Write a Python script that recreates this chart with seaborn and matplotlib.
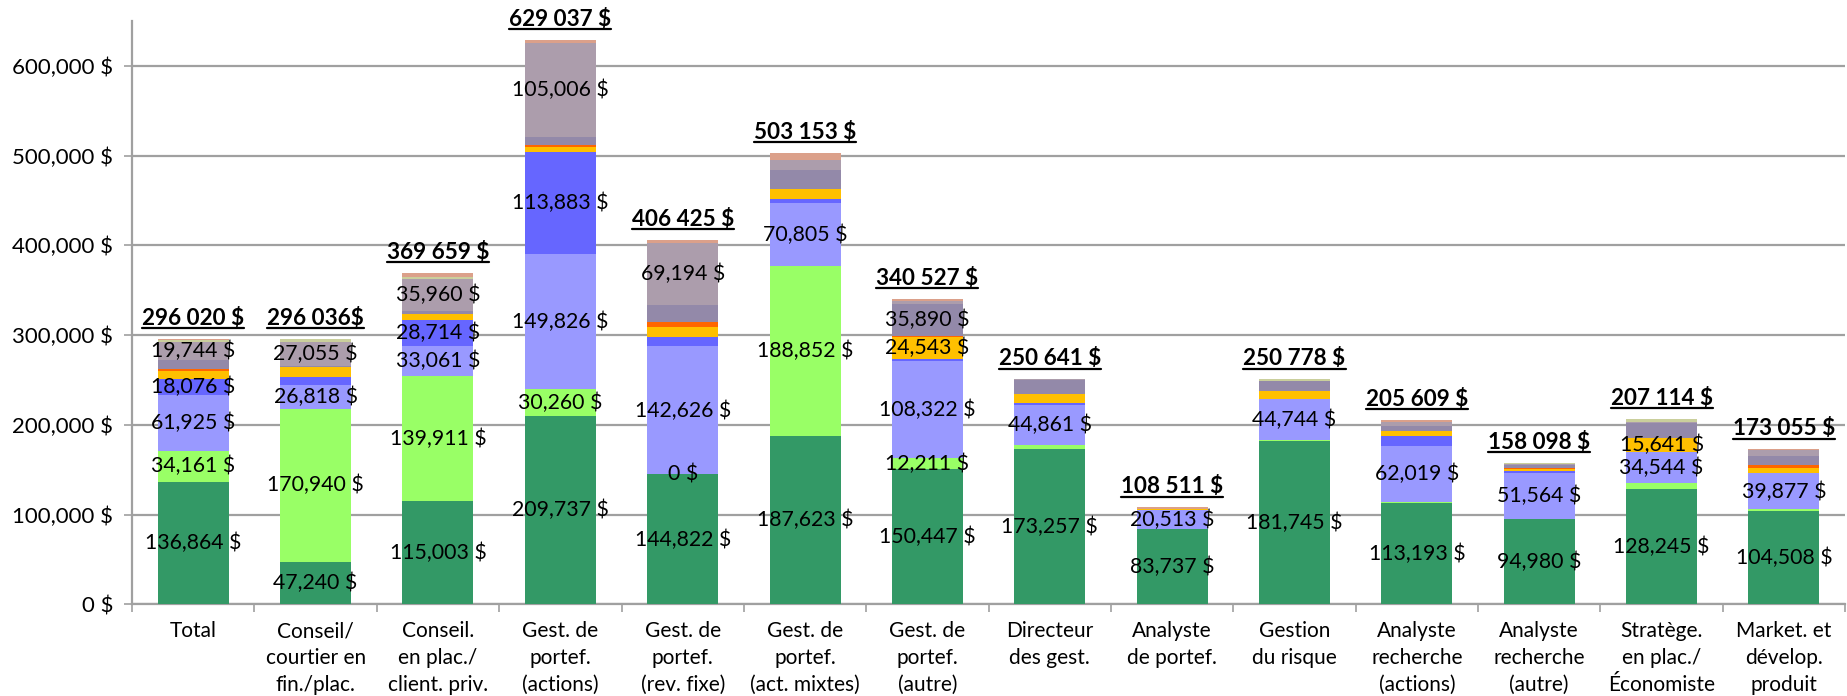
import numpy as np
import pandas as pd
import matplotlib
matplotlib.use("Agg")
import matplotlib.pyplot as plt
from matplotlib.ticker import FuncFormatter, FixedLocator
from matplotlib.lines import Line2D
from matplotlib.transforms import IdentityTransform
import seaborn as sns

# ---------------- data ----------------
categories = ["Total", "Conseil/\ncourtier en\nfin./plac.", "Conseil.\nen plac./\nclient. priv.",
              "Gest. de\nportef.\n(actions)", "Gest. de\nportef.\n(rev. fixe)", "Gest. de\nportef.\n(act. mixtes)",
              "Gest. de\nportef.\n(autre)", "Directeur\ndes gest.", "Analyste\nde portef.",
              "Gestion\ndu risque", "Analyste\nrecherche\n(actions)", "Analyste\nrecherche\n(autre)",
              "Stratège.\nen plac./\nÉconomiste", "Market. et\ndévelop.\nproduit"]

dark_green = [136864, 47240, 115003, 209737, 144822, 187623, 150447, 173257, 83737, 181745, 113193, 94980, 128245, 104508]
light_green = [34161, 170940, 139911, 30260, 0, 188852, 12211, 4500, 500, 1900, 1300, 300, 6500, 1500]
light_purple = [61925, 26818, 33061, 149826, 142626, 70805, 108322, 44861, 20513, 44744, 62019, 51564, 34544, 39877]
blue = [18076, 8700, 28714, 113883, 10000, 4500, 2000, 2200, 500, 0, 11500, 1900, 500, 900]
yellow = [9300, 10400, 6700, 6300, 11900, 11100, 24543, 9300, 1500, 8900, 4800, 1900, 15641, 4800]
orange = [1900, 0, 0, 1200, 5600, 0, 1000, 0, 0, 0, 0, 1500, 0, 3700]
purple_grey = [10000, 1500, 3700, 9200, 18200, 21500, 35890, 16000, 0, 11100, 5900, 3300, 16300, 10400]
mauve = [19744, 27055, 35960, 105006, 69194, 11100, 4000, 523, 0, 0, 4800, 800, 1500, 6300]
khaki = [2500, 2500, 2200, 0, 0, 0, 0, 0, 0, 2389, 0, 1854, 3884, 0]
salmon = [1550, 883, 4410, 3625, 4083, 7673, 2114, 0, 1761, 0, 2097, 0, 0, 1070]

total_labels = ["296 020 $", "296 036$", "369 659 $", "629 037 $", "406 425 $", "503 153 $", "340 527 $",
                "250 641 $", "108 511 $", "250 778 $", "205 609 $", "158 098 $", "207 114 $", "173 055 $"]

# which layers carry a value label, per bar
labelled_layers = [
    ["dg", "lg", "lp", "blue", "mauve"],
    ["dg", "lg", "lp", "mauve"],
    ["dg", "lg", "lp", "blue", "mauve"],
    ["dg", "lg", "lp", "blue", "mauve"],
    ["dg", "lg", "lp", "mauve"],
    ["dg", "lg", "lp"],
    ["dg", "lg", "lp", "yellow", "pgrey"],
    ["dg", "lp"],
    ["dg", "lp"],
    ["dg", "lp"],
    ["dg", "lp"],
    ["dg", "lp"],
    ["dg", "lp", "yellow"],
    ["dg", "lp"],
]

layers = [
    ("dg", dark_green, "#339966"),
    ("lg", light_green, "#99FF66"),
    ("lp", light_purple, "#9999FF"),
    ("blue", blue, "#6666FF"),
    ("yellow", yellow, "#FFC000"),
    ("orange", orange, "#FF6600"),
    ("pgrey", purple_grey, "#9389A9"),
    ("mauve", mauve, "#AC9DAC"),
    ("khaki", khaki, "#CACF9C"),
    ("salmon", salmon, "#DBA08A"),
]

# ---------------- style ----------------
sns.set_theme(style="white")
plt.rcParams["font.family"] = ["Lato", "DejaVu Sans"]

fig = plt.figure(figsize=(18.47, 6.96), dpi=100)
ax = fig.add_axes([0.0715, 0.1315, 0.9275, 0.8385])

vals = np.array([l[1] for l in layers], dtype=float)
cum = np.cumsum(vals, axis=0)

# draw cumulative heights from top layer down so lower layers overlay
for k in range(len(layers) - 1, -1, -1):
    df = pd.DataFrame({"cat": categories, "v": cum[k]})
    sns.barplot(data=df, x="cat", y="v", order=categories, color=layers[k][2],
                saturation=1, errorbar=None, width=0.58, linewidth=0, ax=ax, zorder=3)

# segment labels
names = [l[0] for l in layers]
for i in range(len(categories)):
    for name in labelled_layers[i]:
        k = names.index(name)
        v = vals[k, i]
        bottom = cum[k, i] - v
        ax.text(i, bottom + v / 2, f"{int(v):,} $", ha="center", va="center",
                fontsize=15.3, color="black", zorder=5)

# total labels
OFF = 14
total_texts = []
for i in range(len(categories)):
    t = ax.annotate(total_labels[i], xy=(i, cum[-1, i]), xytext=(0, OFF), textcoords="offset pixels",
                    ha="center", va="baseline", fontsize=16.2, fontweight="bold", color="black", zorder=5)
    total_texts.append((t, i))

# axes cosmetics
ax.set_xlim(-0.5, len(categories) - 0.5)
ax.set_ylim(0, 650000)
ax.yaxis.set_major_locator(FixedLocator([0, 100000, 200000, 300000, 400000, 500000, 600000]))
ax.yaxis.set_major_formatter(FuncFormatter(lambda v, p: f"{int(v):,} $"))
ax.grid(axis="y", color="#A0A0A0", linewidth=1.6, zorder=0)
ax.set_axisbelow(True)
ax.set_xlabel("")
ax.set_ylabel("")
for s in ["top", "right"]:
    ax.spines[s].set_visible(False)
for s in ["left", "bottom"]:
    ax.spines[s].set_color("#A0A0A0")
    ax.spines[s].set_linewidth(1.6)
ax.tick_params(axis="y", which="major", left=True, length=5.5, width=1.2, color="#A0A0A0",
               labelsize=16, pad=8, labelcolor="black")
ax.tick_params(axis="x", which="major", bottom=False, length=0, labelsize=15, pad=12, labelcolor="black")
ax.set_xticks(np.arange(-0.5, len(categories), 1.0), minor=True)
ax.tick_params(axis="x", which="minor", bottom=True, length=6, width=1.2, color="#A0A0A0")
for lab in ax.get_xticklabels():
    lab.set_linespacing(1.42)

# underline totals
fig.canvas.draw()
renderer = fig.canvas.get_renderer()
for t, i in total_texts:
    bb = t.get_window_extent(renderer)
    base_y = ax.transData.transform((i, cum[-1, i]))[1] + OFF
    fig.add_artist(Line2D([bb.x0, bb.x1], [base_y - 3.5, base_y - 3.5], transform=IdentityTransform(),
                          color="black", linewidth=1.6))

fig.savefig("out.png", dpi=100)
